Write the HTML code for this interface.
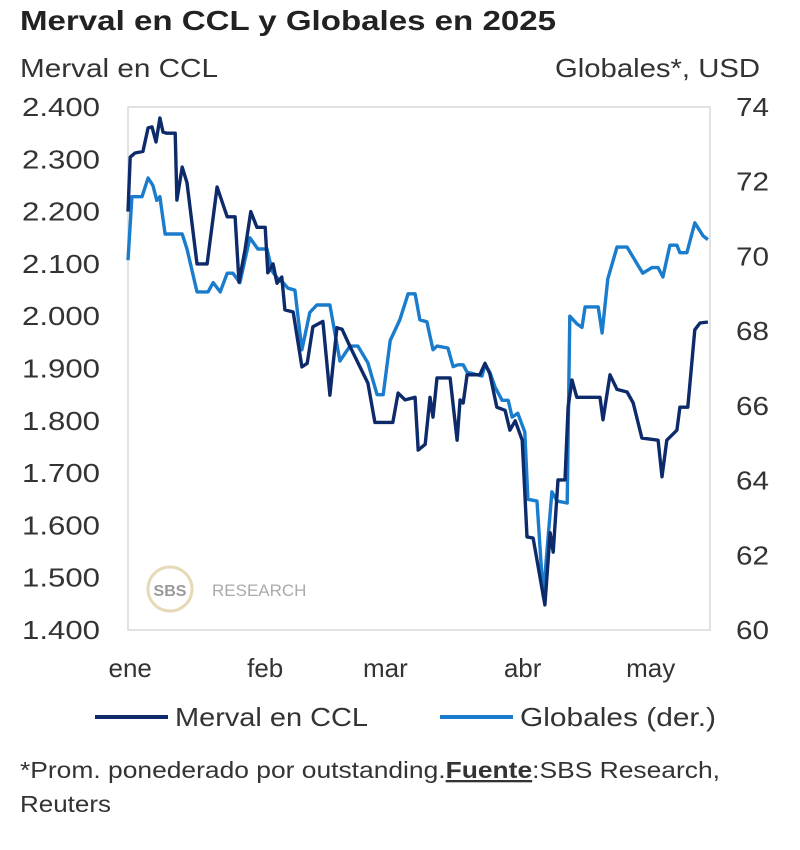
<!DOCTYPE html>
<html><head><meta charset="utf-8"><style>
body{margin:0;background:#fff;width:800px;height:845px;overflow:hidden;font-family:"Liberation Sans",sans-serif;color:#333}
</style></head><body>
<svg width="800" height="845" xmlns="http://www.w3.org/2000/svg" font-family="Liberation Sans, sans-serif">
<text x="20" y="30" font-size="28" font-weight="bold" fill="#222" textLength="536" lengthAdjust="spacingAndGlyphs">Merval en CCL y Globales en 2025</text>
<text x="20" y="77" font-size="26" fill="#333" textLength="198" lengthAdjust="spacingAndGlyphs">Merval en CCL</text>
<text x="555" y="77" font-size="26" fill="#333" textLength="205" lengthAdjust="spacingAndGlyphs">Globales*, USD</text>
<rect x="128" y="107" width="582" height="523" fill="none" stroke="#d9d9d9" stroke-width="1.5"/>
<g>
<circle cx="170" cy="589" r="22" fill="#fff" stroke="#e6d9b8" stroke-width="3"/>
<text x="170" y="596" font-size="16" font-weight="bold" fill="#999" text-anchor="middle">SBS</text>
<text x="212" y="596" font-size="17" fill="#aaa">RESEARCH</text>
</g>
<g id="axes"></g>
<g id="series"></g>
<g>
<line x1="95" y1="717" x2="168" y2="717" stroke="#0d2a6b" stroke-width="4"/>
<text x="175" y="726" font-size="26" fill="#333" textLength="193" lengthAdjust="spacingAndGlyphs">Merval en CCL</text>
<line x1="440" y1="717" x2="513" y2="717" stroke="#1a7ccc" stroke-width="4"/>
<text x="520" y="726" font-size="26" fill="#333" textLength="196" lengthAdjust="spacingAndGlyphs">Globales (der.)</text>
</g>
<text x="20" y="778" font-size="23" fill="#333" textLength="700" lengthAdjust="spacingAndGlyphs">*Prom. ponederado por outstanding.<tspan font-weight="bold" text-decoration="underline">Fuente</tspan>:SBS Research,</text>
<text x="20" y="812" font-size="23" fill="#333" textLength="91" lengthAdjust="spacingAndGlyphs">Reuters</text>
</svg>
<script>
const leftTicks=[1400,1500,1600,1700,1800,1900,2000,2100,2200,2300,2400];
const leftTickLabels=["1.400","1.500","1.600","1.700","1.800","1.900","2.000","2.100","2.200","2.300","2.400"];
const rightTicks=[60,62,64,66,68,70,72,74];
const monthDays=[0.5,31.4,58.9,90.3,119.6];
const monthLabels=["ene","feb","mar","abr","may"];
const mervalDays=[0,0.5,1.6,3.4,4.6,5.5,6.4,7.3,8,8.9,10.8,11.2,12.4,13.5,15.8,18.1,20.4,22.7,24.5,25.4,26.8,28.1,29.5,31.4,32,33.2,34.1,35.2,35.9,37.8,39.8,41,42.3,44.6,46.2,47.8,49,50.8,54.9,56.5,60.6,61.8,63.4,65.7,66.4,68,69.1,69.8,70.7,73.7,75.3,76,76.7,77.6,80.5,81.7,82.8,84.4,86.3,87.4,88.6,90.2,91.3,92.7,95.4,96.6,97.3,98.4,100,100.7,101.6,102.7,108,108.7,110.3,111.9,114.2,115.6,117.6,121.3,122.2,123.3,125.6,126.3,128.1,129.7,130.9,132.7];
const mervalValues=[2200,2304,2312,2315,2360,2362,2333,2379,2352,2350,2350,2222,2285,2255,2100,2100,2247,2190,2190,2065,2128,2200,2170,2170,2083,2100,2063,2075,2012,2008,1903,1910,1980,1990,1849,1978,1975,1942,1872,1797,1797,1853,1840,1845,1744,1755,1845,1807,1882,1882,1763,1840,1834,1888,1888,1910,1890,1826,1820,1782,1800,1763,1578,1576,1448,1586,1549,1687,1687,1826,1878,1845,1845,1802,1888,1860,1855,1834,1767,1763,1693,1763,1782,1826,1826,1974,1987,1989];
const globalesDays=[0,0.9,3.2,4.6,5.7,6.6,7.3,8.5,11.2,12.4,13.5,15.8,18.3,19.5,21.1,22.7,24,25.6,27.9,29.7,31.8,33,34.3,35.5,36.6,38.2,39.8,41.6,43.2,46.2,48.5,50.8,52.6,54.9,57,58.4,60,62.2,64.1,65.7,66.8,68.4,69.8,70.7,73.2,74.4,75.5,76.7,77.6,81,81.7,82.8,84,85.6,87,87.9,89.2,90.8,91.5,93.6,95,97,98.2,100.5,101.1,102.7,103.9,104.6,107.6,108.5,109.8,111.9,114.2,116.5,117.8,119.9,121.3,122.4,124,125.6,126.3,127.9,129.7,131.6,132.7];
const globalesValues=[69.9,71.6,71.6,72.1,71.9,71.5,71.6,70.6,70.6,70.6,70.2,69.05,69.05,69.3,69.05,69.55,69.55,69.3,70.5,70.2,70.2,69.6,69.4,69.3,69.15,69.1,67.5,68.5,68.7,68.7,67.2,67.6,67.6,67.15,66.3,66.3,67.75,68.3,69.0,69.0,68.3,68.25,67.5,67.6,67.55,67.05,67.1,67.1,66.9,66.8,67.1,66.9,66.5,66.15,66.15,65.7,65.8,65.3,63.5,63.45,60.9,63.7,63.45,63.4,68.4,68.2,68.1,68.65,68.65,67.95,69.4,70.25,70.25,69.8,69.55,69.7,69.7,69.45,70.3,70.3,70.1,70.1,70.9,70.55,70.45];

const NS="http://www.w3.org/2000/svg";
const X0=128,PX_PER_DAY=4.37,TOP=107,BOT=630;
const xs=d=>X0+d*PX_PER_DAY;
const yL=v=>BOT-(v-1400)/1000*(BOT-TOP);
const yR=v=>BOT-(v-60)/14*(BOT-TOP);
const axes=document.getElementById('axes'),series=document.getElementById('series');
function txt(x,y,s,anchor,len){const t=document.createElementNS(NS,'text');t.setAttribute('x',x);t.setAttribute('y',y);t.setAttribute('font-size','26');t.setAttribute('fill','#333');t.setAttribute('text-anchor',anchor);
if(len){t.setAttribute('textLength',len);t.setAttribute('lengthAdjust','spacingAndGlyphs');}
t.textContent=s;axes.appendChild(t);return t;}
leftTicks.forEach((v,i)=>{const t=txt(100,yL(v)+9,leftTickLabels[i],'end',78);

});
rightTicks.forEach(v=>{const t=txt(736,yR(v)+9,String(v),'start',33);

});
monthDays.forEach((d,i)=>{const t=txt(xs(d),677,monthLabels[i],'middle');

});
function line(days,vals,yf,color,name){const p=document.createElementNS(NS,'polyline');
p.setAttribute('points',days.map((d,i)=>xs(d).toFixed(1)+','+yf(vals[i]).toFixed(1)).join(' '));
p.setAttribute('fill','none');p.setAttribute('stroke',color);p.setAttribute('stroke-width','3.4');p.setAttribute('stroke-linejoin','round');


series.appendChild(p);}
line(globalesDays,globalesValues,yR,'#1a7ccc','globales-line');
line(mervalDays,mervalValues,yL,'#0d2a6b','merval-line');
</script>
</body></html>
